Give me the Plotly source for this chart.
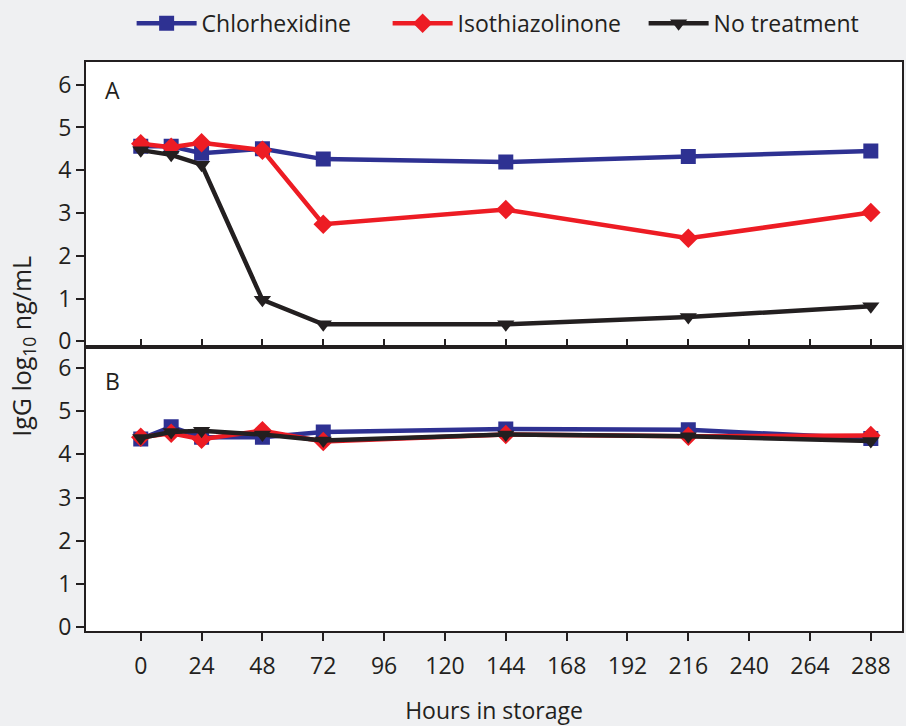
import plotly.graph_objects as go
from plotly.subplots import make_subplots

hours = [0, 12, 24, 48, 72, 144, 216, 288]
x_ticks = [0, 24, 48, 72, 96, 120, 144, 168, 192, 216, 240, 264, 288]

# Panel A
a_chlorhexidine = [4.56, 4.56, 4.40, 4.50, 4.26, 4.19, 4.32, 4.45]
a_isothiazolinone = [4.62, 4.54, 4.64, 4.47, 2.74, 3.08, 2.41, 3.01]
a_no_treatment = [4.47, 4.36, 4.13, 0.97, 0.40, 0.40, 0.57, 0.82]

# Panel B
b_chlorhexidine = [4.36, 4.64, 4.40, 4.40, 4.52, 4.59, 4.57, 4.37]
b_isothiazolinone = [4.40, 4.49, 4.35, 4.55, 4.30, 4.46, 4.42, 4.44]
b_no_treatment = [4.38, 4.52, 4.55, 4.46, 4.32, 4.46, 4.42, 4.31]

names = ["Chlorhexidine", "Isothiazolinone", "No treatment"]
colors = ["#2e3192", "#ed1c24", "#231f20"]
symbols = ["square", "diamond", "triangle-down"]
sizes = [15, 15, 15]

FONT = "Open Sans"
DARK = "#231f20"

fig = make_subplots(rows=2, cols=1, shared_xaxes=True, vertical_spacing=0)

for row, series in [(1, [a_chlorhexidine, a_isothiazolinone, a_no_treatment]),
                    (2, [b_chlorhexidine, b_isothiazolinone, b_no_treatment])]:
    for i, vals in enumerate(series):
        fig.add_trace(go.Scatter(
            x=hours, y=vals, mode="lines+markers", name=names[i],
            line=dict(color=colors[i], width=4.5),
            marker=dict(symbol=symbols[i], size=sizes[i], color=colors[i],
                        line=dict(width=0)),
            showlegend=(row == 1),
        ), row=row, col=1)

axis_common = dict(showgrid=False, zeroline=False, showline=True, mirror=True,
                   linecolor=DARK, linewidth=2, tickcolor=DARK, tickwidth=2,
                   ticklen=8, tickfont=dict(family=FONT, size=23, color=DARK))

fig.update_xaxes(**axis_common, range=[-21.6, 300.3], tickvals=x_ticks)
fig.update_xaxes(ticks="inside", showticklabels=False, row=1, col=1)
fig.update_xaxes(ticks="outside", showticklabels=True, row=2, col=1,
                 ticklabelstandoff=5,
                 title=dict(text="Hours in storage", font=dict(family=FONT, size=23, color=DARK),
                            standoff=26))
fig.update_yaxes(**axis_common, ticks="outside", tickvals=[0, 1, 2, 3, 4, 5, 6])
fig.update_yaxes(range=[-0.12, 6.53], row=1, col=1)
fig.update_yaxes(range=[-0.09, 6.5], row=2, col=1)

fig.add_annotation(text="A", x=0.032, y=0.9, xref="x domain", yref="y domain",
                   showarrow=False, font=dict(family=FONT, size=23, color=DARK),
                   xanchor="center", yanchor="middle")
fig.add_annotation(text="B", x=0.032, y=0.88, xref="x2 domain", yref="y2 domain",
                   showarrow=False, font=dict(family=FONT, size=23, color=DARK),
                   xanchor="center", yanchor="middle")
fig.add_annotation(text="IgG log<sub>10</sub> ng/mL", x=-0.078, y=0.5, xref="paper", yref="paper",
                   textangle=-90, showarrow=False, font=dict(family=FONT, size=25, color=DARK),
                   xanchor="center", yanchor="middle")

fig.update_layout(
    width=906, height=726,
    margin=dict(l=86, r=2, t=58, b=95),
    paper_bgcolor="#eff0f2", plot_bgcolor="white",
    font=dict(family=FONT, color=DARK),
    legend=dict(orientation="h", x=0.5265, xanchor="center", y=1.068, yanchor="middle",
                font=dict(family=FONT, size=23, color=DARK), bgcolor="rgba(0,0,0,0)",
                itemwidth=60, entrywidth=181, entrywidthmode="pixels", traceorder="normal"),
)

fig.write_html("out.html")
